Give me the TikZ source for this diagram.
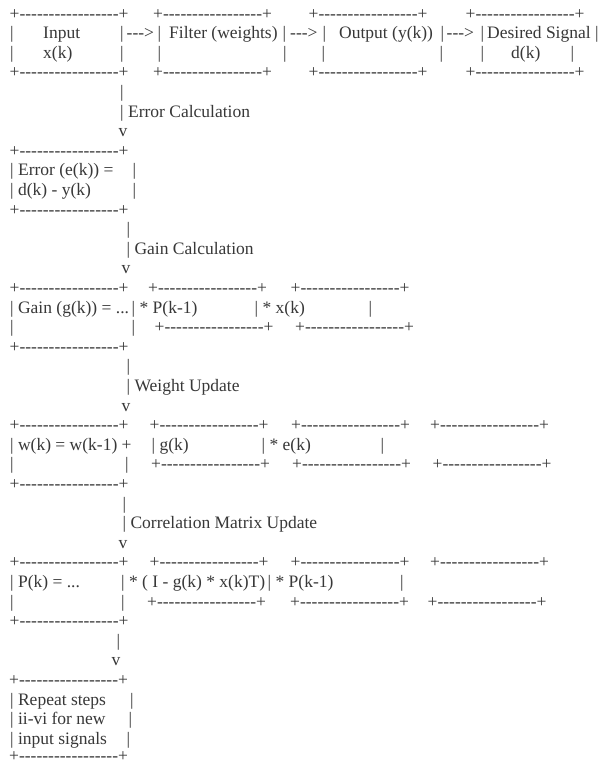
\documentclass[tikz,border=0pt]{standalone}
\usepackage{fontspec}
\usepackage{tikz}
\usepackage{xcolor}
\newfontfamily\asciifont{Liberation Serif}
\newcommand{\boxline}{+-----------------+}

\begin{document}
\begin{tikzpicture}[x=1pt, y=-19.6pt,
    asc/.style={anchor=base west, inner sep=0pt, text depth=0pt, text=black!78,
                font=\asciifont\fontsize{17.5pt}{19.6pt}\selectfont}]
            % page frame
            \fill[white] (0pt,-0.6pt) rectangle (599pt,-766.6pt);
            \useasboundingbox (0pt,-0.6pt) rectangle (599pt,-766.6pt);

            % Top row of boxes
            \node[asc] (inTop) at (9.5,1) {\boxline};
            \node[asc] (filtTop) at (153,1) {\boxline};
            \node[asc] (outTop) at (308.5,1) {\boxline};
            \node[asc] (desTop) at (465.5,1) {\boxline};

            \node[asc] (inL1) at (10,2) {|};
            \node[asc] (inText) at (43,2) {Input};
            \node[asc] (inR1) at (120,2) {|};
            \node[asc] (arrA) at (126.5,2) {--->};
            \node[asc] (filtL1) at (157.5,2) {|};
            \node[asc] (filtText) at (169,2) {Filter (weights)};
            \node[asc] (filtR1) at (282.5,2) {|};
            \node[asc] (arrB) at (290,2) {--->};
            \node[asc] (outL1) at (322.5,2) {|};
            \node[asc] (outText) at (339,2) {Output (y(k))};
            \node[asc] (outR1) at (440.5,2) {|};
            \node[asc] (arrC) at (446.5,2) {--->};
            \node[asc] (desL1) at (480.5,2) {|};
            \node[asc] (desText) at (487,2) {Desired Signal};
            \node[asc] (desR1) at (595,2) {|};

            \node[asc] (inL2) at (10,3) {|};
            \node[asc] (inSig) at (43,3) {x(k)};
            \node[asc] (inR2) at (120,3) {|};
            \node[asc] (filtL2) at (157.5,3) {|};
            \node[asc] (filtR2) at (283,3) {|};
            \node[asc] (outL2) at (321.5,3) {|};
            \node[asc] (outR2) at (439.5,3) {|};
            \node[asc] (desL2) at (480.5,3) {|};
            \node[asc] (desSig) at (511,3) {d(k)};
            \node[asc] (desR2) at (570.5,3) {|};

            \node[asc] (inBot) at (9.5,4) {\boxline};
            \node[asc] (filtBot) at (153,4) {\boxline};
            \node[asc] (outBot) at (308.5,4) {\boxline};
            \node[asc] (desBot) at (465.5,4) {\boxline};

            % Error calculation step
            \node[asc] (errBar) at (120,5) {|};
            \node[asc] (errLabel) at (120,6) {| Error Calculation};
            \node[asc] (errHead) at (118.5,7) {v};

            \node[asc] (errTop) at (9.5,8) {\boxline};
            \node[asc] (errText) at (10,9) {| Error (e(k)) =};
            \node[asc] (errR1) at (132.5,9) {|};
            \node[asc] (errDiff) at (10,10) {| d(k) - y(k)};
            \node[asc] (errR2) at (132.5,10) {|};
            \node[asc] (errBot) at (9.5,11) {\boxline};

            % Gain calculation step
            \node[asc] (gainBar) at (126.5,12) {|};
            \node[asc] (gainLabel) at (126.5,13) {| Gain Calculation};
            \node[asc] (gainHead) at (121.5,14) {v};

            \node[asc] (gainTop) at (9.5,15) {\boxline};
            \node[asc] (gainTopB) at (148,15) {\boxline};
            \node[asc] (gainTopC) at (290.5,15) {\boxline};
            \node[asc] (gainText) at (10,16) {| Gain (g(k)) = ...};
            \node[asc] (gainP) at (131.5,16) {| * P(k-1)};
            \node[asc] (gainX) at (254.5,16) {| * x(k)};
            \node[asc] (gainR1) at (368.5,16) {|};
            \node[asc] (gainL2) at (10,17) {|};
            \node[asc] (gainR2) at (131.5,17) {|};
            \node[asc] (gainBotB) at (154.5,17) {\boxline};
            \node[asc] (gainBotC) at (295,17) {\boxline};
            \node[asc] (gainBot) at (9.5,18) {\boxline};

            % Weight update step
            \node[asc] (wBar) at (126.5,19) {|};
            \node[asc] (wLabel) at (126.5,20) {| Weight Update};
            \node[asc] (wHead) at (121.5,21) {v};

            \node[asc] (wTop) at (9.5,22) {\boxline};
            \node[asc] (wTopB) at (149.5,22) {\boxline};
            \node[asc] (wTopC) at (291,22) {\boxline};
            \node[asc] (wTopD) at (430,22) {\boxline};
            \node[asc] (wText) at (10,23) {| w(k) = w(k-1) +};
            \node[asc] (wG) at (151.5,23) {| g(k)};
            \node[asc] (wE) at (261.5,23) {| * e(k)};
            \node[asc] (wR1) at (380.5,23) {|};
            \node[asc] (wL2) at (10,24) {|};
            \node[asc] (wR2) at (125,24) {|};
            \node[asc] (wBotB) at (151,24) {\boxline};
            \node[asc] (wBotC) at (292,24) {\boxline};
            \node[asc] (wBotD) at (432.5,24) {\boxline};
            \node[asc] (wBot) at (9.5,25) {\boxline};

            % Correlation matrix update step
            \node[asc] (pBar) at (122.5,26) {|};
            \node[asc] (pLabel) at (122.5,27) {| Correlation Matrix Update};
            \node[asc] (pHead) at (118.5,28) {v};

            \node[asc] (pTop) at (9.5,29) {\boxline};
            \node[asc] (pTopB) at (149.5,29) {\boxline};
            \node[asc] (pTopC) at (290.5,29) {\boxline};
            \node[asc] (pTopD) at (430,29) {\boxline};
            \node[asc] (pText) at (10,30) {| P(k) = ...};
            \node[asc] (pI) at (121,30) {| * ( I - g(k) * x(k)T)};
            \node[asc] (pP) at (267.5,30) {| * P(k-1)};
            \node[asc] (pR1) at (400,30) {|};
            \node[asc] (pL2) at (10,31) {|};
            \node[asc] (pR2) at (121,31) {|};
            \node[asc] (pBotB) at (147,31) {\boxline};
            \node[asc] (pBotC) at (290,31) {\boxline};
            \node[asc] (pBotD) at (427.5,31) {\boxline};
            \node[asc] (pBot) at (9.5,32) {\boxline};

            % Repeat step
            \node[asc] (repBar) at (116.5,33) {|};
            \node[asc] (repHead) at (111.5,34) {v};

            \node[asc] (repTop) at (9,35) {\boxline};
            \node[asc] (repText1) at (10,36) {| Repeat steps};
            \node[asc] (repR1) at (130,36) {|};
            \node[asc] (repText2) at (10,37) {| ii-vi for new};
            \node[asc] (repR2) at (128.5,37) {|};
            \node[asc] (repText3) at (10,38) {| input signals};
            \node[asc] (repR3) at (126.5,38) {|};
            \node[asc] (repBot) at (9,38.9) {\boxline};
\end{tikzpicture}
\end{document}
